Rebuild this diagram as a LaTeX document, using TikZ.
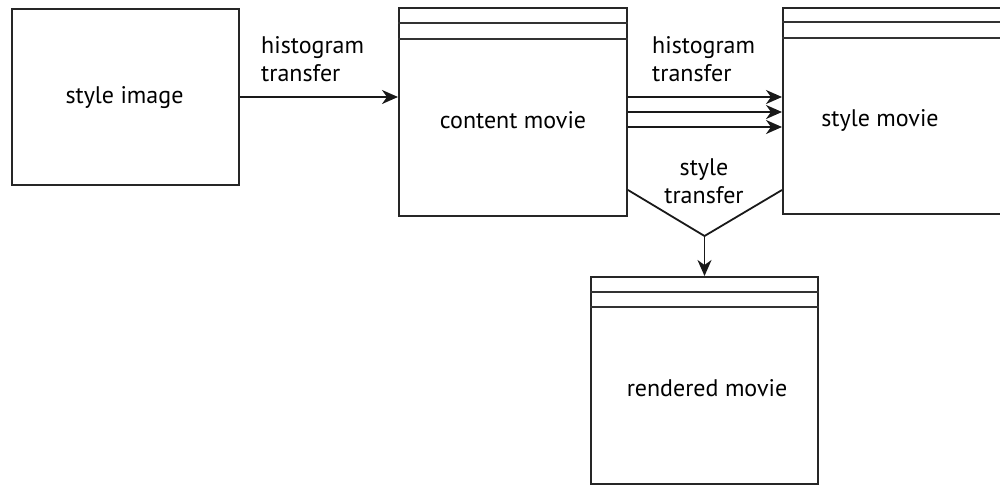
\documentclass[tikz,border=0pt]{standalone}
\usepackage{fontspec}
\setmainfont{PT Sans}
\usetikzlibrary{arrows.meta,calc}
\begin{document}
\begin{tikzpicture}[x=1pt,y=-1pt,
  box/.style={draw=black!85,line width=2pt,inner sep=0pt,anchor=north west},
  lbl/.style={font=\fontsize{24}{28}\selectfont,align=left,inner sep=0pt},
  conn/.style={line width=1.8pt,draw=black!90},
  arr/.style={conn,-{Stealth[length=16pt,width=14pt,inset=5pt]}},
  stripe/.style={line width=1.8pt,draw=black!80}]
\useasboundingbox (0,0) rectangle (1000,485);
\clip (0,0) rectangle (1000,485);
% boxes
\node[box,minimum width=227pt,minimum height=176pt] (si) at (11,8) {};
\node[box,minimum width=228pt,minimum height=208pt] (cm) at (398,7) {};
\node[box,minimum width=240pt,minimum height=206pt] (sm) at (782,7) {};
\node[box,minimum width=227pt,minimum height=207pt] (rm) at (590,276) {};
% stripes
\draw[stripe] ($(cm.north west)+(0,16)$) -- ($(cm.north east)+(0,16)$);
\draw[stripe] ($(cm.north west)+(0,32)$) -- ($(cm.north east)+(0,32)$);
\draw[stripe] ($(sm.north west)+(0,15)$) -- ($(sm.north east)+(0,15)$);
\draw[stripe] ($(sm.north west)+(0,31)$) -- ($(sm.north east)+(0,31)$);
\draw[stripe] ($(rm.north west)+(0,16)$) -- ($(rm.north east)+(0,16)$);
\draw[stripe] ($(rm.north west)+(0,31)$) -- ($(rm.north east)+(0,31)$);
% box labels
\node[lbl] (tsi) at (124.5,98) {style image};
\node[lbl] (tcm) at (513,120) {content movie};
\node[lbl] (tsm) at (880,120) {style movie};
\node[lbl] (trm) at (707,388) {rendered movie};
% connectors
\draw[arr] (si.east) -- (si.east -| cm.west);
\coordinate (a1) at (700,97);
\coordinate (a2) at (700,112);
\coordinate (a3) at (700,127);
\draw[arr] (cm.east |- a1) -- (sm.west |- a1);
\draw[arr] (cm.east |- a2) -- (sm.west |- a2);
\draw[arr] (cm.east |- a3) -- (sm.west |- a3);
\coordinate (vy) at (700,190);
\coordinate (vtip) at (rm.north |- {(0,236)});
\draw[conn] (cm.east |- vy) -- (vtip) -- (sm.west |- vy);
\draw[arr] (vtip) -- (rm.north);
% connector labels
\node[lbl,anchor=west] (h1) at (261,59) {histogram\\transfer};
\node[lbl,anchor=west] (h2) at (652,59) {histogram\\transfer};
\node[lbl,align=center] (st) at (704,181) {style\\transfer};
\end{tikzpicture}
\end{document}
